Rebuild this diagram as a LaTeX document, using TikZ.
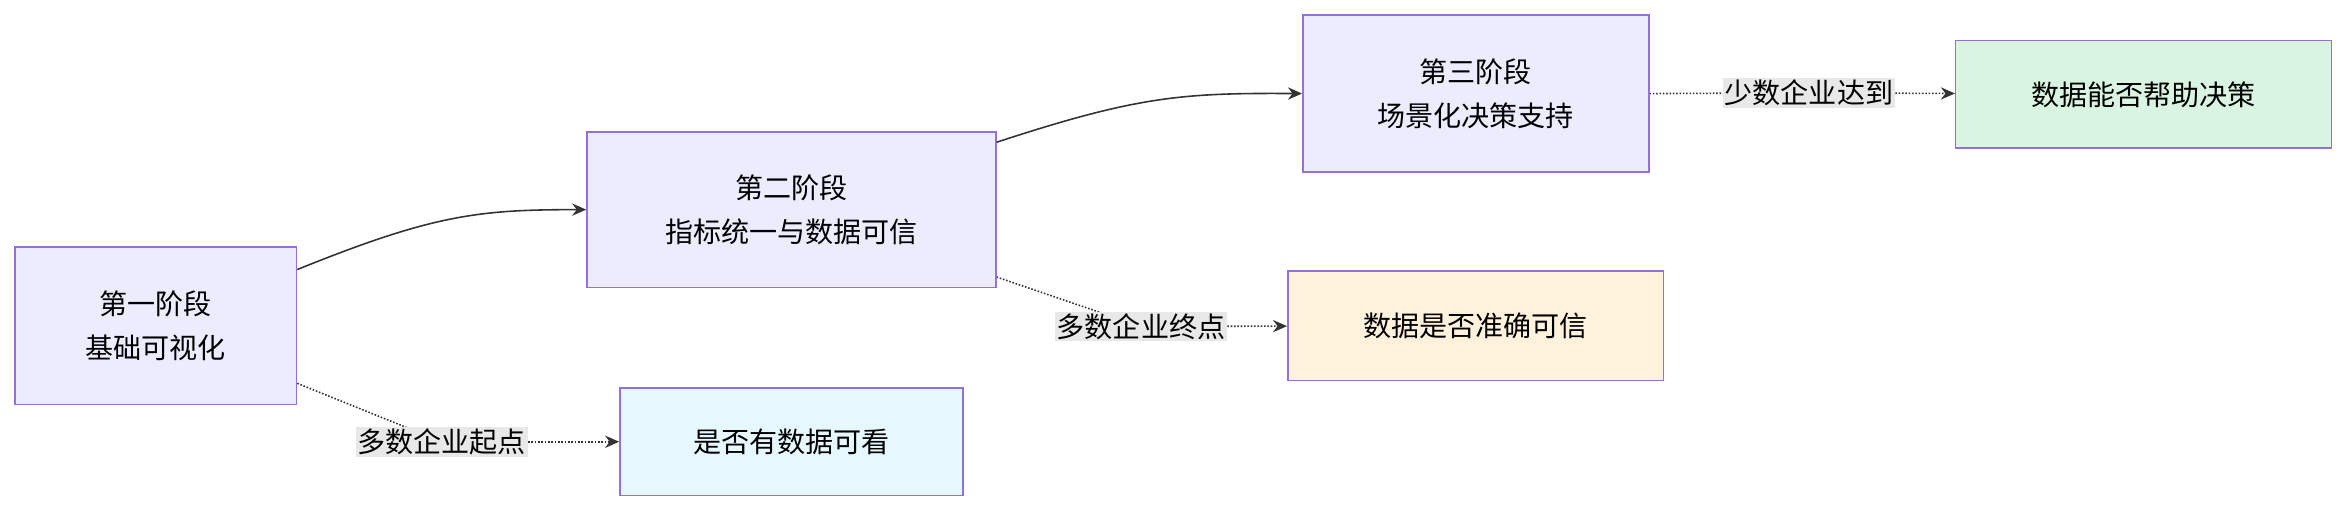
\documentclass[tikz,border=0pt]{standalone}
\usepackage{fontspec}
\setmainfont{Noto Sans CJK SC}
\usetikzlibrary{arrows.meta,positioning,backgrounds}
\definecolor{StageFill}{HTML}{ECECFF}
\definecolor{StageDraw}{HTML}{9370DB}
\definecolor{EdgeGray}{HTML}{333333}
\definecolor{LabelBg}{HTML}{E8E8E8}

\begin{document}
\begin{tikzpicture}[
  x=0.03cm, y=-0.03cm,
  box/.style={rectangle, draw=StageDraw, fill=#1, line width=0.9pt, align=center, font=\fontsize{16}{25}\selectfont, inner sep=0pt},
  elabel/.style={fill=LabelBg, inner sep=1pt, font=\fontsize{16}{20}\selectfont},
  flow/.style={-{Stealth[length=8pt,width=7pt]}, line width=0.9pt, EdgeGray},
  reach/.style={-{Stealth[length=8pt,width=7pt]}, line width=0.9pt, EdgeGray, densely dotted}
]
\useasboundingbox (0,0) rectangle (1568,342);

% Stages
\node[box=StageFill, minimum width=188*0.03cm, minimum height=105*0.03cm] (stage1) at (104,217.5) {第一阶段\\基础可视化};
\node[box=StageFill, minimum width=273*0.03cm, minimum height=104*0.03cm] (stage2) at (528.5,140) {第二阶段\\指标统一与数据可信};
\node[box=StageFill, minimum width=231*0.03cm, minimum height=105*0.03cm] (stage3) at (985.5,62.5) {第三阶段\\场景化决策支持};

% Questions
\node[box={cyan!10}, minimum width=229*0.03cm, minimum height=72*0.03cm] (q1) at (528.5,295) {是否有数据可看};
\node[box={yellow!25!orange!12}, minimum width=251*0.03cm, minimum height=73*0.03cm] (q2) at (985.5,217.5) {数据是否准确可信};
\node[box={green!50!teal!15}, minimum width=251*0.03cm, minimum height=72*0.03cm] (q3) at (1431.5,63) {数据能否帮助决策};

% Edge labels
\node[elabel] (l1) at (295,295) {多数企业起点};
\node[elabel] (l2) at (762,218) {多数企业终点};
\node[elabel] (l3) at (1208,62) {少数企业达到};

% Connectors
\draw[flow] (stage1.east |- 0,180) .. controls (290,143) and (320,140) .. (stage2.west);
\draw[flow] (stage2.east |- 0,95) .. controls (760,64) and (790,62) .. (stage3.west);

\begin{scope}[on background layer]
\draw[reach, -] (stage1.east |- 0,256) -- (l1.center);
\draw[reach, -] (stage2.east |- 0,185) -- (l2.center);
\draw[reach, -] (stage3.east) -- (l3.center);
\end{scope}
\draw[reach] (l1) -- (q1);
\draw[reach] (l2) -- (q2);
\draw[reach] (l3) -- (q3);
\end{tikzpicture}
\end{document}
